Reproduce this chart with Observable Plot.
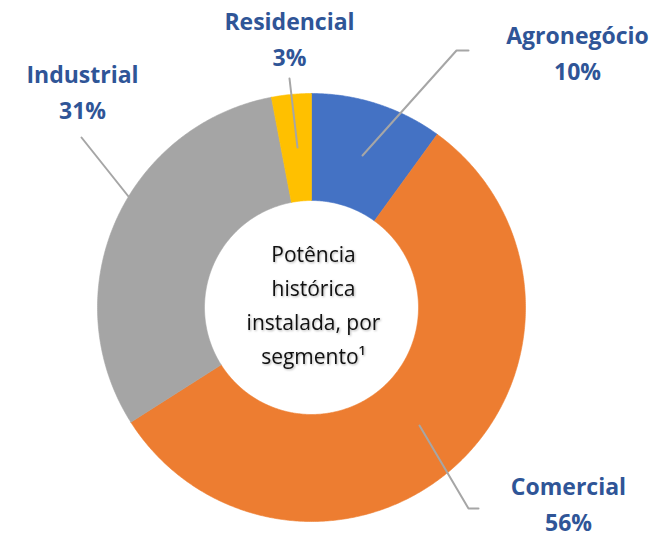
<!DOCTYPE html>
<html><head><meta charset="utf-8">
<script src="https://cdn.jsdelivr.net/npm/d3@7"></script>
<script src="https://cdn.jsdelivr.net/npm/@observablehq/plot@0.6"></script>
<style>html,body{margin:0;padding:0;background:#fff;} #chart svg{display:block;}</style>
</head><body><div id="chart"></div>
<script>
// ---- data ----
const segments = ["Agronegócio", "Comercial", "Industrial", "Residencial"];
const shares = [10, 56, 31, 3];
const percentLabels = ["10%", "56%", "31%", "3%"];
const colors = ["#4472C4", "#ED7D31", "#A5A5A5", "#FFC000"];
const centerTitle = ["Potência", "histórica", "instalada, por", "segmento¹"];

// ---- layout ----
const W = 671, H = 538, CX = 311, CY = 307, R = 214, HOLE = 0.5;
const u = (px, py) => [(px - CX) / R, (CY - py) / R];
// label anchor (center x, baseline of last line) and leader polylines, in pixels
const labelLayout = {
  "Agronegócio": {at: [577, 79], leader: [[362, 155], [456, 50], [468, 50]]},
  "Comercial":   {at: [568, 530], leader: [[419, 425], [468, 508], [478, 508]]},
  "Industrial":  {at: [82, 118], leader: [[128, 196], [81, 137]]},
  "Residencial": {at: [289, 65], leader: [[297, 147], [289, 78]]}
};

const arcs = d3.pie().sort(null).value(d => d)(shares);
const sliceMarks = arcs.map((p, i) => {
  const n = Math.max(8, Math.ceil((p.endAngle - p.startAngle) / (Math.PI / 360)));
  const pts = [];
  for (let k = 0; k <= n; k++) {
    const a = p.startAngle + (p.endAngle - p.startAngle) * k / n;
    pts.push({x: Math.sin(a), y: Math.cos(a)});
  }
  for (let k = n; k >= 0; k--) {
    const a = p.startAngle + (p.endAngle - p.startAngle) * k / n;
    pts.push({x: HOLE * Math.sin(a), y: HOLE * Math.cos(a)});
  }
  pts.push(pts[0]);
  return Plot.line(pts, {x: "x", y: "y", fill: colors[i], stroke: colors[i], strokeWidth: 0.6, curve: "linear"});
});

const leaderPts = [];
segments.forEach(s => labelLayout[s].leader.forEach(([px, py]) => {
  const [x, y] = u(px, py); leaderPts.push({s, x, y});
}));

const labelData = segments.map((s, i) => {
  const [x, y] = u(...labelLayout[s].at);
  return {x, y, text: s + "\n" + percentLabels[i]};
});

const [cxT, cyT] = u(313, 363);
const centerData = [{x: cxT, y: cyT, text: centerTitle.join("\n")}];

const chart = Plot.plot({
  width: W, height: H, margin: 0,
  x: {domain: [(0 - CX) / R, (W - CX) / R], axis: null},
  y: {domain: [(CY - H) / R, CY / R], axis: null},
  style: {background: "#fff", overflow: "visible"},
  marks: [
    ...sliceMarks,
    Plot.line(leaderPts, {x: "x", y: "y", z: "s", stroke: "#A6A6A6", strokeWidth: 2, curve: "linear"}),
    Plot.text(labelData, {x: "x", y: "y", text: "text", lineAnchor: "bottom", lineHeight: 36 / 23,
      fontSize: 23, fontWeight: "bold", fill: "#2F5597", fontFamily: "'Open Sans', sans-serif"}),
    Plot.text(centerData, {x: "x", y: "y", text: "text", lineAnchor: "bottom", lineHeight: 33.7 / 21,
      fontSize: 21, fill: "#111", fontFamily: "'Open Sans', sans-serif"})
  ]
});
document.getElementById("chart").appendChild(chart);
chart.querySelectorAll("text").forEach(t => {
  if (t.textContent.includes("Potência")) t.style.filter = "drop-shadow(1px 1px 1px rgba(0,0,0,0.3))";
});
</script>
</body></html>
